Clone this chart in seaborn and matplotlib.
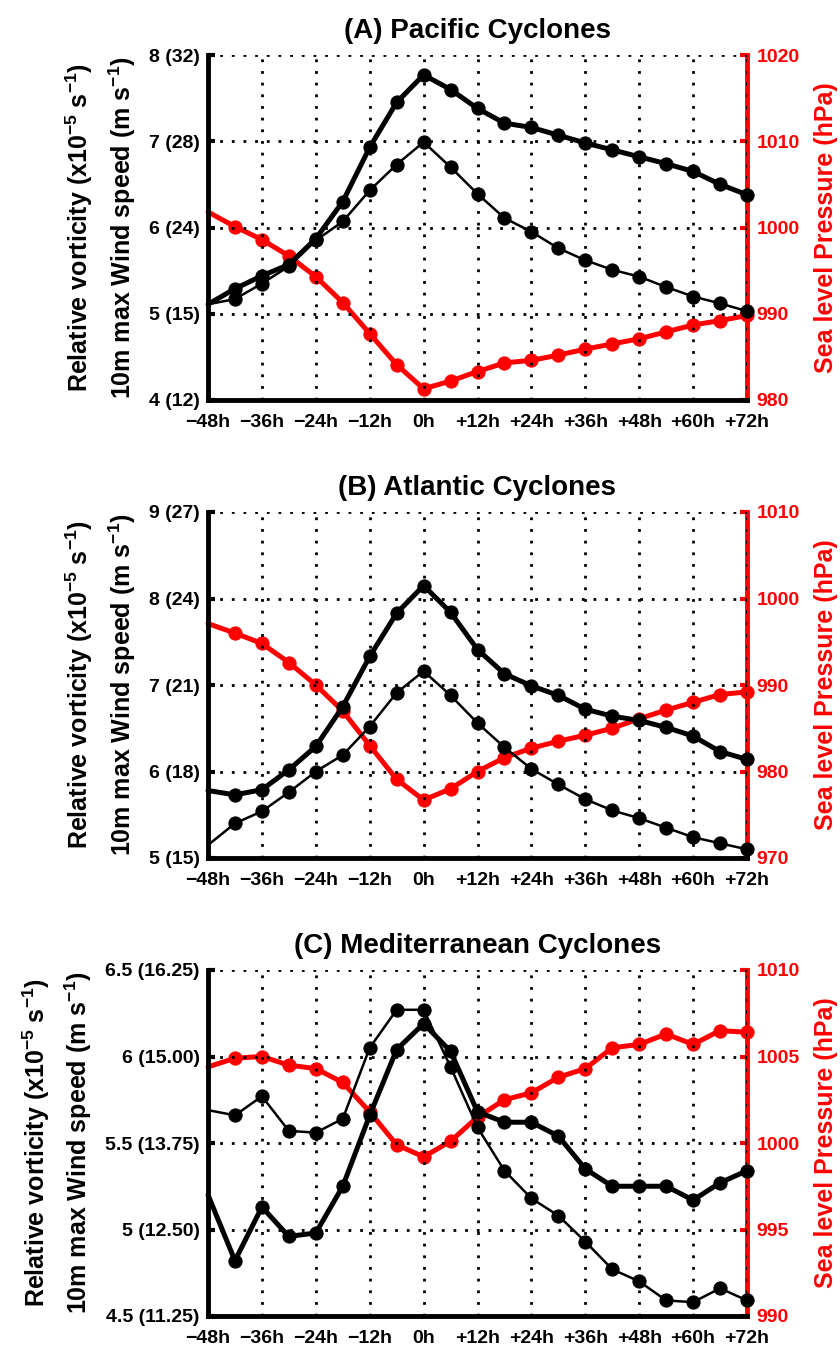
import matplotlib
matplotlib.use("Agg")
import matplotlib.pyplot as plt
import seaborn as sns
import pandas as pd

sns.set_theme(style="white")
plt.rcParams["font.family"] = ["Liberation Sans", "DejaVu Sans"]
plt.rcParams["font.weight"] = "bold"
plt.rcParams["text.color"] = "black"
plt.rcParams["axes.labelcolor"] = "black"
plt.rcParams["xtick.color"] = "black"
plt.rcParams["ytick.color"] = "black"
plt.rcParams["mathtext.fontset"] = "custom"
plt.rcParams["mathtext.rm"] = "Liberation Sans:bold"
plt.rcParams["mathtext.bf"] = "Liberation Sans:bold"
plt.rcParams["mathtext.default"] = "bf"

hours = list(range(-48, 73, 6))
xtick_vals = list(range(-48, 73, 12))
xtick_labels = ["\u221248h", "\u221236h", "\u221224h", "\u221212h", "0h",
                "+12h", "+24h", "+36h", "+48h", "+60h", "+72h"]

# (A) Pacific
pac_vort = [5.11, 5.29, 5.44, 5.57, 5.87, 6.30, 6.93, 7.45, 7.77, 7.60, 7.38,
            7.21, 7.16, 7.07, 6.98, 6.90, 6.82, 6.74, 6.65, 6.50, 6.38]
pac_wind = [5.11, 5.17, 5.35, 5.55, 5.85, 6.07, 6.43, 6.73, 6.99, 6.70, 6.39,
            6.11, 5.95, 5.76, 5.62, 5.51, 5.43, 5.31, 5.20, 5.12, 5.03]
pac_slp = [1001.8, 1000.1, 998.6, 996.7, 994.3, 991.3, 987.7, 984.1, 981.3, 982.2, 983.3,
           984.3, 984.6, 985.2, 985.9, 986.5, 987.1, 987.9, 988.7, 989.2, 989.8]
pac_yticks = [4, 5, 6, 7, 8]
pac_ylabels = ["4 (12)", "5 (15)", "6 (24)", "7 (28)", "8 (32)"]
pac_rticks = [980, 990, 1000, 1010, 1020]

# (B) Atlantic
atl_vort = [5.78, 5.73, 5.79, 6.02, 6.29, 6.75, 7.33, 7.83, 8.15, 7.84, 7.41,
            7.13, 6.99, 6.88, 6.72, 6.64, 6.59, 6.51, 6.41, 6.23, 6.14]
atl_wind = [5.15, 5.40, 5.54, 5.76, 6.00, 6.19, 6.52, 6.91, 7.16, 6.88, 6.56,
            6.28, 6.03, 5.85, 5.68, 5.55, 5.46, 5.35, 5.24, 5.17, 5.10]
atl_slp = [997.1, 996.0, 994.8, 992.6, 990.0, 987.0, 983.0, 979.1, 976.7, 978.0, 980.0,
           981.6, 982.7, 983.5, 984.2, 985.0, 986.1, 987.1, 988.0, 988.9, 989.2]
atl_yticks = [5, 6, 7, 8, 9]
atl_ylabels = ["5 (15)", "6 (18)", "7 (21)", "8 (24)", "9 (27)"]
atl_rticks = [970, 980, 990, 1000, 1010]

# (C) Mediterranean
med_vort = [5.20, 4.82, 5.13, 4.96, 4.98, 5.25, 5.66, 6.04, 6.19, 6.03, 5.68,
            5.62, 5.62, 5.54, 5.35, 5.25, 5.25, 5.25, 5.17, 5.27, 5.34]
med_wind = [5.69, 5.66, 5.77, 5.57, 5.56, 5.64, 6.05, 6.27, 6.27, 5.94, 5.59,
            5.34, 5.18, 5.08, 4.93, 4.77, 4.70, 4.59, 4.58, 4.66, 4.59]
med_slp = [1004.4, 1004.9, 1005.0, 1004.5, 1004.3, 1003.5, 1001.8, 999.9, 999.2, 1000.1, 1001.5,
           1002.5, 1002.9, 1003.8, 1004.3, 1005.5, 1005.7, 1006.3, 1005.7, 1006.5, 1006.4]
med_yticks = [4.5, 5, 5.5, 6, 6.5]
med_ylabels = ["4.5 (11.25)", "5 (12.50)", "5.5 (13.75)", "6 (15.00)", "6.5 (16.25)"]
med_rticks = [990, 995, 1000, 1005, 1010]

titles = ["(A) Pacific Cyclones", "(B) Atlantic Cyclones", "(C) Mediterranean Cyclones"]

panels = [
    (pac_vort, pac_wind, pac_slp, pac_yticks, pac_ylabels, pac_rticks),
    (atl_vort, atl_wind, atl_slp, atl_yticks, atl_ylabels, atl_rticks),
    (med_vort, med_wind, med_slp, med_yticks, med_ylabels, med_rticks),
]

W, H = 840, 1349
fig = plt.figure(figsize=(W / 100, H / 100), dpi=100)
boxes = [(55, 400), (512, 858), (970, 1316)]
left_px, right_px = 208, 747

mk = list(range(1, len(hours)))
TICK_FS = 14
for i, (vort, wind, slp, yt, yl, rt) in enumerate(panels):
    top, bot = boxes[i]
    ax = fig.add_axes([left_px / W, 1 - bot / H, (right_px - left_px) / W, (bot - top) / H])
    ax2 = ax.twinx()
    df = pd.DataFrame({"hour": hours, "vort": vort, "wind": wind, "slp": slp})

    sns.lineplot(data=df, x="hour", y="vort", ax=ax, color="black", linewidth=3.6,
                 marker="o", markersize=9.5, markeredgecolor="black", markevery=mk,
                 clip_on=False, zorder=3)
    sns.lineplot(data=df, x="hour", y="wind", ax=ax, color="black", linewidth=1.8,
                 marker="o", markersize=9.5, markeredgecolor="black", markevery=mk,
                 clip_on=False, zorder=3)
    sns.lineplot(data=df, x="hour", y="slp", ax=ax2, color="red", linewidth=3.6,
                 marker="o", markersize=9.5, markeredgecolor="red", markevery=mk,
                 clip_on=False, zorder=3)

    ax.set_xlim(-48, 72)
    ax.set_ylim(yt[0], yt[-1])
    ax2.set_ylim(rt[0], rt[-1])
    ax.set_xticks(xtick_vals)
    ax.set_xticklabels(xtick_labels, fontsize=TICK_FS, fontweight="bold")
    ax.set_yticks(yt)
    ax.set_yticklabels(yl, fontsize=TICK_FS, fontweight="bold")
    ax2.set_yticks(rt)
    ax2.set_yticklabels([str(v) for v in rt], fontsize=TICK_FS, fontweight="bold", color="red")

    ax.grid(True, color="black", linestyle=(0, (1, 3.2)), linewidth=2.0)
    ax2.grid(False)
    ax.set_axisbelow(True)

    for a in (ax, ax2):
        a.spines["top"].set_visible(False)
    ax.spines["left"].set_linewidth(3.5)
    ax.spines["left"].set_color("black")
    ax.spines["bottom"].set_linewidth(3.5)
    ax.spines["bottom"].set_color("black")
    ax.spines["right"].set_visible(False)
    ax2.spines["left"].set_visible(False)
    ax2.spines["bottom"].set_visible(False)
    ax2.spines["right"].set_linewidth(3.5)
    ax2.spines["right"].set_color("red")

    ax.tick_params(axis="both", direction="in", length=5, width=3, color="black",
                   labelcolor="black", pad=6)
    ax.tick_params(axis="x", pad=10)
    ax.tick_params(axis="y", right=False)
    ax2.tick_params(axis="y", direction="in", length=5, width=3, color="red", pad=7,
                    labelcolor="red")

    ax.set_xlabel("")
    ax.set_ylabel("Relative vorticity (x10$^{-5}$ s$^{-1}$)\n10m max Wind speed (m s$^{-1}$)",
                  fontsize=18, fontweight="bold", linespacing=1.45, labelpad=8, color="black")
    ax2.set_ylabel("Sea level Pressure (hPa)", fontsize=18, fontweight="bold", color="red",
                   labelpad=10)
    ax.set_title(titles[i], fontsize=20, fontweight="bold", pad=12, color="black")
    ax.set_zorder(ax2.get_zorder() + 1)
    ax.patch.set_visible(False)

fig.savefig("out.png", dpi=100, facecolor="white")
